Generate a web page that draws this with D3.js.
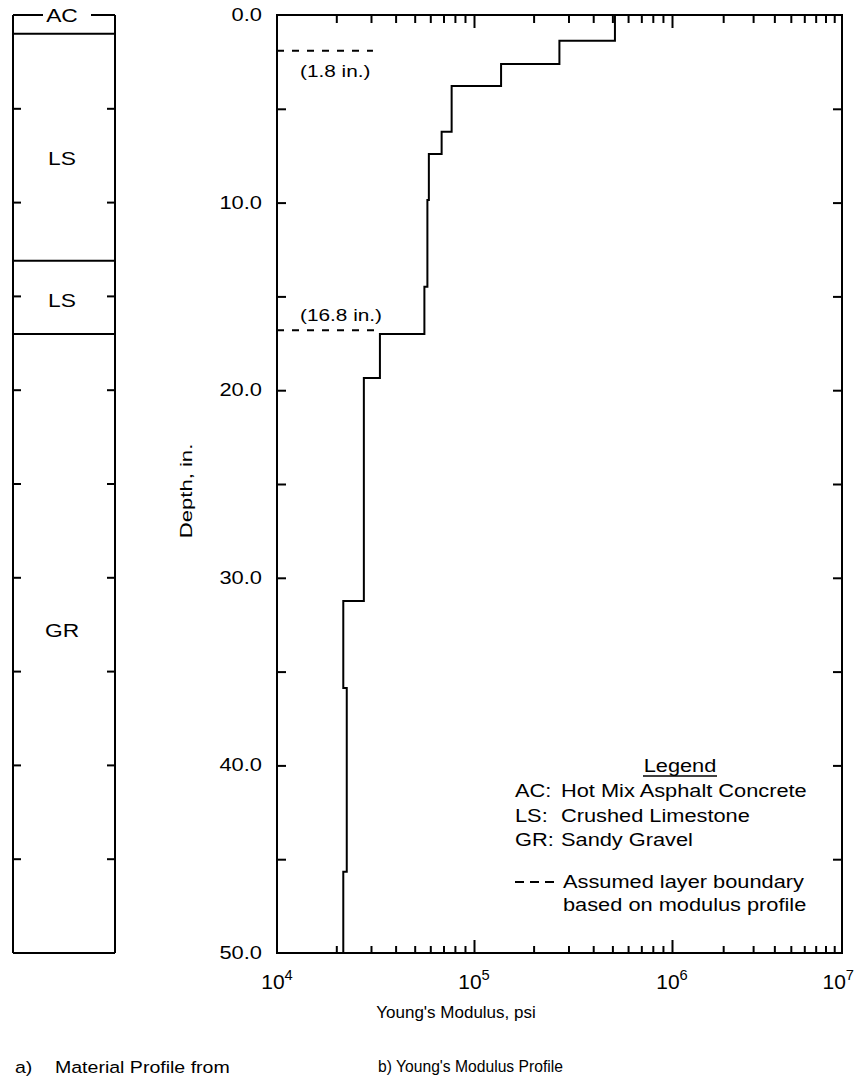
<!DOCTYPE html>
<html><head><meta charset="utf-8">
<script src="https://cdn.jsdelivr.net/npm/d3@7"></script>
<style>body{margin:0;background:#fff} text{font-family:"Liberation Sans",Arial,Helvetica,sans-serif;fill:#000}</style>
</head><body><svg id="c" width="856" height="1086"></svg>
<script>
// ---------------- data ----------------
const depthTicks = [0,5,10,15,20,25,30,35,40,45,50];
const depthLabelValues = [0,10,20,30,40,50];
const decadeExponents = [4,5,6,7];
const stepTops = [0, 1.37, 2.61, 3.78, 6.22, 7.41, 9.86, 14.48, 17.0, 19.35, 31.24, 35.87, 45.67];
const stepModuli = [515000, 270000, 137000, 77000, 68500, 59000, 58000, 56000, 33300, 27600, 21700, 22600, 21700];
const maxDepth = 50;
const layerNames = ["AC","LS","LS","GR"];
const layerTops = [0, 1.0, 13.1, 17.0];
const layerLabelDepths = [0, 7.6, 15.2, 32.8];
const boundaryDepths = [1.9, 16.8];
const boundaryEndModuli = [30700, 33300];
const boundaryLabels = ["(1.8 in.)", "(16.8 in.)"];
const legendTitle = "Legend";
const legendCodes = ["AC:","LS:","GR:"];
const legendNames = ["Hot Mix Asphalt Concrete","Crushed Limestone","Sandy Gravel"];
const legendDashText = ["Assumed layer boundary","based on modulus profile"];
const xTitle = "Young's Modulus, psi";
const yTitle = "Depth, in.";
const captionA = ["a)", "Material Profile from"];
const captionB = "b) Young's Modulus Profile";

// ---------------- layout ----------------
const svg = d3.select("#c");
svg.append("rect").attr("width",856).attr("height",1086).attr("fill","#fff");
const plotTop = 15, plotBottom = 953;
const x = d3.scaleLog()
  .domain(decadeExponents.map(e => Math.pow(10,e)))
  .range([277, 474, 672, 842]);
const y = d3.scaleLinear().domain([0, maxDepth]).range([plotTop, plotBottom]);
const xL = x.range()[0], xR = x.range()[x.range().length-1];

function txt(parent, px, py, s, o = {}) {
  const size = o.size || 17, sx = o.sx || 1, anchor = o.anchor || "start", rot = o.rot || 0;
  return parent.append("text")
    .attr("transform", `translate(${px},${py})` + (rot ? ` rotate(${rot})` : "") + ` scale(${sx},1)`)
    .attr("font-size", size).attr("text-anchor", anchor).text(s);
}

// ---------------- left panel: material profile ----------------
const pL = 13, pR = 115;
const lp = svg.append("g").attr("stroke","#000").attr("stroke-width",2).attr("fill","none");
lp.append("line").attr("x1",pL).attr("x2",pL).attr("y1",y(0)).attr("y2",y(maxDepth));
lp.append("line").attr("x1",pR).attr("x2",pR).attr("y1",y(0)).attr("y2",y(maxDepth));
lp.append("line").attr("x1",pL).attr("x2",pR).attr("y1",y(maxDepth)).attr("y2",y(maxDepth));
lp.append("line").attr("x1",pL).attr("x2",43).attr("y1",y(0)).attr("y2",y(0));
lp.append("line").attr("x1",91).attr("x2",pR).attr("y1",y(0)).attr("y2",y(0));
lp.selectAll("line.b").data(layerTops.slice(1)).join("line").attr("class","b")
  .attr("x1",pL).attr("x2",pR).attr("y1",d=>y(d)).attr("y2",d=>y(d));
lp.selectAll("line.tl").data(depthTicks.slice(1,-1)).join("line").attr("class","tl")
  .attr("x1",pL).attr("x2",pL+8).attr("y1",d=>y(d)).attr("y2",d=>y(d));
lp.selectAll("line.tr").data(depthTicks.slice(1,-1)).join("line").attr("class","tr")
  .attr("x1",pR).attr("x2",pR-8).attr("y1",d=>y(d)).attr("y2",d=>y(d));
layerNames.forEach((n,i) => {
  txt(svg, 62, y(layerLabelDepths[i]) + 7, n, {size:19, sx:1.2, anchor:"middle"});
});

// ---------------- main plot axes ----------------
const ax = svg.append("g");
ax.append("rect").attr("x",xL).attr("y",plotTop).attr("width",xR-xL).attr("height",plotBottom-plotTop)
  .attr("fill","none").attr("stroke","#000").attr("stroke-width",2);
const allTicks = x.ticks();
const isMajor = d => Math.abs(Math.log10(d) - Math.round(Math.log10(d))) < 1e-9;
const dom = x.domain();
const innerTicks = allTicks.filter(d => d > dom[0] && d < dom[dom.length-1]);
const gTop = ax.append("g").attr("transform",`translate(0,${plotTop})`)
  .call(d3.axisTop(x).tickValues(innerTicks).tickSize(0).tickFormat(""));
gTop.select(".domain").remove();
gTop.selectAll(".tick line").attr("y2", d => isMajor(d) ? 13 : 8).attr("stroke-width",2);
const gBot = ax.append("g").attr("transform",`translate(0,${plotBottom})`)
  .call(d3.axisBottom(x).tickValues(innerTicks).tickSize(0).tickFormat(""));
gBot.select(".domain").remove();
gBot.selectAll(".tick line").attr("y2", d => isMajor(d) ? -13 : -7).attr("stroke-width",2);
const gLeft = ax.append("g").attr("transform",`translate(${xL},0)`)
  .call(d3.axisLeft(y).tickValues(depthTicks.slice(1,-1)).tickSize(-9).tickFormat(""));
gLeft.select(".domain").remove();
gLeft.selectAll(".tick line").attr("stroke-width",2);
const gRight = ax.append("g").attr("transform",`translate(${xR},0)`)
  .call(d3.axisRight(y).tickValues(depthTicks.slice(1,-1)).tickSize(-9).tickFormat(""));
gRight.select(".domain").remove();
gRight.selectAll(".tick line").attr("stroke-width",2);

depthLabelValues.forEach(v => {
  txt(svg, 262, y(v) + 6, d3.format(".1f")(v), {size:17.5, sx:1.25, anchor:"end"});
});
decadeExponents.forEach((e,i) => {
  const last = i === decadeExponents.length - 1;
  const t = svg.append("text")
    .attr("transform",`translate(${last ? 854 : x(Math.pow(10,e))},989) scale(1.05,1)`)
    .attr("text-anchor", last ? "end" : "middle").attr("font-size",20);
  t.append("tspan").text("10");
  t.append("tspan").attr("dy",-9).attr("font-size",14).text(e);
});
txt(svg, 192, 491, yTitle, {size:17, sx:1.3, anchor:"middle", rot:-90});
txt(svg, 456, 1018, xTitle, {size:17, sx:1.0, anchor:"middle"});
txt(svg, 15, 1073, captionA[0], {size:17, sx:1.15});
txt(svg, 55, 1073, captionA[1], {size:17, sx:1.15});
txt(svg, 378, 1072, captionB, {size:16.5, sx:0.95});

// ---------------- profile ----------------
const pts = [];
stepModuli.forEach((m,i) => {
  const d0 = stepTops[i], d1 = i+1 < stepTops.length ? stepTops[i+1] : maxDepth;
  pts.push([m,d0]); pts.push([m,d1]);
});
svg.append("path").datum(pts)
  .attr("d", d3.line().x(d=>x(d[0])).y(d=>y(d[1])))
  .attr("fill","none").attr("stroke","#000").attr("stroke-width",2);

boundaryDepths.forEach((d,i) => {
  svg.append("line").attr("x1",xL).attr("x2",x(boundaryEndModuli[i]))
    .attr("y1",y(d)).attr("y2",y(d))
    .attr("stroke","#000").attr("stroke-width",2).attr("stroke-dasharray","7,8");
  txt(svg, 300, i === 0 ? y(d)+26 : y(d)-9, boundaryLabels[i], {size:16, sx:1.3});
});

// ---------------- legend ----------------
txt(svg, 680, 772, legendTitle, {size:17.5, sx:1.245, anchor:"middle"});
svg.append("line").attr("x1",680-37).attr("x2",680+37).attr("y1",776).attr("y2",776)
  .attr("stroke","#000").attr("stroke-width",1.5);
const rowY = [797, 822, 846];
legendCodes.forEach((c,i) => {
  txt(svg, 515, rowY[i], c, {size:17.5, sx:1.245});
  txt(svg, 561, rowY[i], legendNames[i], {size:17.5, sx:1.245});
});
svg.append("line").attr("x1",515).attr("x2",555).attr("y1",882).attr("y2",882)
  .attr("stroke","#000").attr("stroke-width",2).attr("stroke-dasharray","9,6");
legendDashText.forEach((s,i) => txt(svg, 563, 888 + i*23, s, {size:17.5, sx:1.245}));
</script></body></html>
